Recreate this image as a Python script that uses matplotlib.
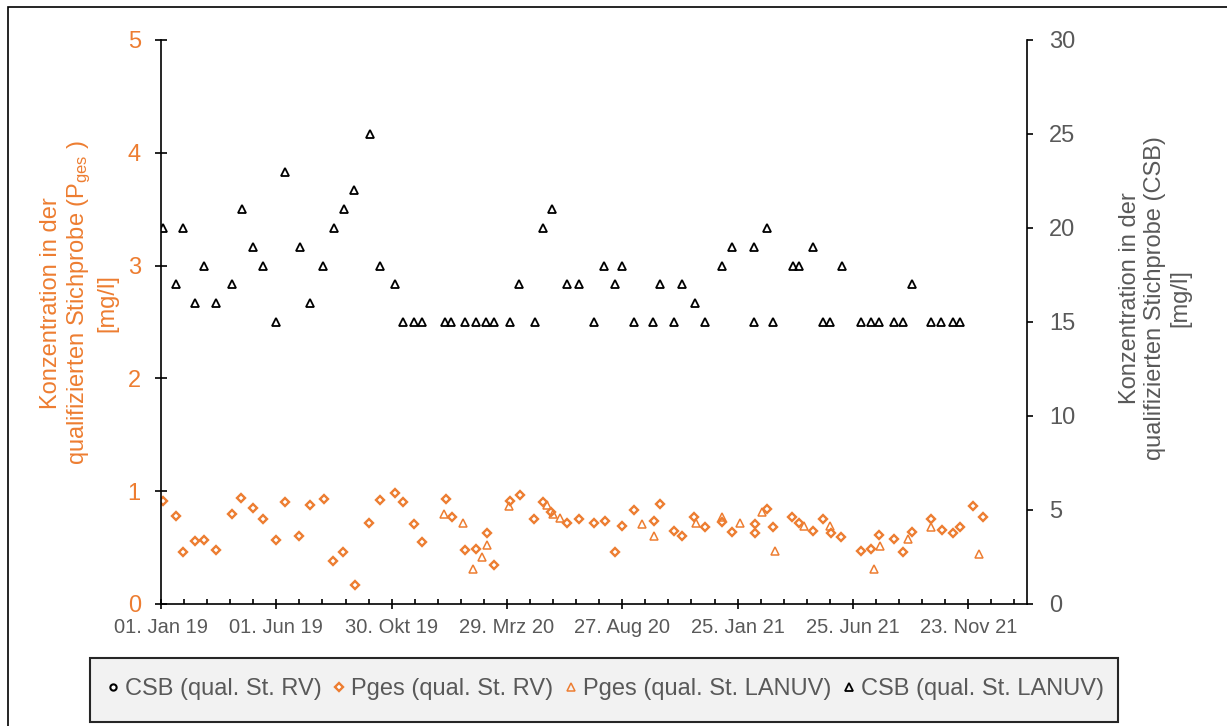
import numpy as np
import matplotlib
matplotlib.use("Agg")
from matplotlib import pyplot as plt
from matplotlib.patches import Rectangle

plt.rcParams['font.family'] = ['Liberation Sans', 'DejaVu Sans']
plt.rcParams['mathtext.default'] = 'regular'

######################################################
# Daten (Tage seit 01.01.2019)
######################################################
# CSB, qualifizierte Stichprobe LANUV [mg/l]
csb_lanuv_tag = [3, 20, 29, 44, 56, 72, 93, 106, 120, 133, 150, 162, 182, 195,
                 212, 226, 239, 253, 274, 287, 306, 317, 331, 342, 372, 380,
                 398, 413, 426, 436, 457, 469, 490, 500, 512, 532, 547, 567,
                 580, 594, 604, 619, 644, 653, 672, 682, 699, 713, 735, 748,
                 777, 777, 793, 801, 827, 835, 854, 867, 876, 892, 917, 930,
                 940, 960, 971, 983, 1008, 1022, 1037, 1046]
csb_lanuv = [20, 17, 20, 16, 18, 16, 17, 21, 19, 18, 15, 23, 19, 16,
             18, 20, 21, 22, 25, 18, 17, 15, 15, 15, 15, 15,
             15, 15, 15, 15, 15, 17, 15, 20, 21, 17, 17, 15,
             18, 17, 18, 15, 15, 17, 15, 17, 16, 15, 18, 19,
             15, 19, 20, 15, 18, 18, 19, 15, 15, 18, 15, 15,
             15, 15, 15, 17, 15, 15, 15, 15]

# CSB, qualifizierte Stichprobe RV (keine Werte)
csb_rv_tag = []
csb_rv = []

# Pges, qualifizierte Stichprobe RV [mg/l]
p_rv_tag = [3, 20, 29, 44, 56, 72, 93, 105, 120, 133, 150, 162, 181, 195,
            213, 225, 238, 254, 273, 287, 307, 317, 331, 342, 373, 381,
            398, 413, 427, 436, 457, 470, 489, 500, 511, 532, 547, 567,
            581, 594, 604, 619, 645, 653, 672, 682, 698, 713, 734, 748,
            778, 778, 793, 801, 826, 836, 854, 867, 877, 891, 916, 930,
            940, 960, 972, 984, 1008, 1023, 1037, 1046, 1063, 1077]
p_rv = [0.91, 0.78, 0.46, 0.56, 0.57, 0.48, 0.80, 0.94, 0.85, 0.75, 0.57, 0.90, 0.60, 0.88,
        0.93, 0.38, 0.46, 0.17, 0.72, 0.92, 0.98, 0.90, 0.71, 0.55, 0.93, 0.77,
        0.48, 0.49, 0.63, 0.35, 0.91, 0.97, 0.75, 0.90, 0.82, 0.72, 0.75, 0.72,
        0.74, 0.46, 0.69, 0.83, 0.74, 0.89, 0.65, 0.60, 0.77, 0.68, 0.73, 0.64,
        0.71, 0.63, 0.84, 0.68, 0.77, 0.72, 0.65, 0.75, 0.63, 0.59, 0.47, 0.49,
        0.61, 0.58, 0.46, 0.64, 0.75, 0.66, 0.63, 0.68, 0.87, 0.77]

# Pges, qualifizierte Stichprobe LANUV [mg/l]
p_lanuv_tag = [370, 395, 408, 420, 427, 456, 505, 513, 523, 630, 646, 701,
               735, 758, 787, 804, 842, 876, 934, 941, 978, 1008, 1071]
p_lanuv = [0.80, 0.72, 0.31, 0.42, 0.52, 0.87, 0.88, 0.80, 0.76, 0.71, 0.60, 0.72,
           0.77, 0.72, 0.82, 0.47, 0.69, 0.69, 0.31, 0.51, 0.58, 0.68, 0.44]

x_labels = ['01. Jan 19', '01. Jun 19', '30. Okt 19', '29. Mrz 20',
            '27. Aug 20', '25. Jan 21', '25. Jun 21', '23. Nov 21']

orange = '#ED7D31'
grau = '#595959'

######################################################
# Plot
######################################################
W, H = 1227, 726
fig = plt.figure(figsize=(W / 100, H / 100), dpi=100)

# Rahmen um das Diagramm
fig.patches.append(Rectangle((8 / W, -0.1), 1.5, 1.1 - 7 / H, transform=fig.transFigure,
                             fill=False, edgecolor='black', linewidth=1.2))

ax1 = fig.add_axes([161 / W, 1 - 604 / H, (1027 - 161) / W, (604 - 40) / H])
ax2 = ax1.twinx()

h_prv, = ax1.plot(p_rv_tag, p_rv, ls='none', marker='D', ms=3.8, mew=1.7,
                  mec=orange, mfc='white', label='Pges (qual. St. RV)')
h_pla, = ax1.plot(p_lanuv_tag, p_lanuv, ls='none', marker='^', ms=6, mew=1.1,
                  mec=orange, mfc='none', label='Pges (qual. St. LANUV)')
h_crv, = ax2.plot(csb_rv_tag, csb_rv, ls='none', marker='o', ms=4.5, mew=1.5,
                  mec='black', mfc='white', label='CSB (qual. St. RV)')
h_cla, = ax2.plot(csb_lanuv_tag, csb_lanuv, ls='none', marker='^', ms=6, mew=1.3,
                  mec='black', mfc='none', label='CSB (qual. St. LANUV)')

ax1.set_xlim(0, 1134)
ax1.set_ylim(0, 5)
ax2.set_ylim(0, 30)

ax1.set_xticks(np.arange(len(x_labels)) * 151)
ax1.set_xticklabels(x_labels)
ax1.set_xticks(np.arange(0, 1134, 30.2), minor=True)
ax1.set_yticks(np.arange(0, 6, 1))
ax2.set_yticks(np.arange(0, 31, 5))

for side in ['top', 'right']:
    ax1.spines[side].set_visible(False)
for side in ['top', 'left', 'bottom']:
    ax2.spines[side].set_visible(False)
for sp in [ax1.spines['left'], ax1.spines['bottom'], ax2.spines['right']]:
    sp.set_linewidth(1.2)
    sp.set_color('black')

ax1.tick_params(axis='x', which='major', direction='inout', length=7.5, width=1.2,
                pad=6, labelsize=14.5, labelcolor=grau)
ax1.tick_params(axis='x', which='minor', direction='in', length=3.5, width=1.2)
ax1.tick_params(axis='y', direction='inout', length=9, width=1.2, pad=10,
                labelsize=17, labelcolor=orange)
ax2.tick_params(axis='y', direction='out', length=4.5, width=1.2, pad=11.5,
                labelsize=17, labelcolor=grau)

fig.text(79 / W, 1 - 303 / H,
         'Konzentration in der\nqualifizierten Stichprobe (P$_{ges}$ )\n[mg/l]',
         rotation=90, ha='center', va='center', multialignment='center',
         fontsize=17, color=orange, linespacing=1.2)
fig.text(1155 / W, 1 - 298 / H,
         'Konzentration in der\nqualifizierten Stichprobe (CSB)\n[mg/l]',
         rotation=90, ha='center', va='center', multialignment='center',
         fontsize=17, color=grau, linespacing=1.2)

# Legende
fig.patches.append(Rectangle((90 / W, 1 - 722 / H), (1118 - 90) / W, (722 - 658) / H,
                             transform=fig.transFigure, facecolor='#F2F2F2',
                             edgecolor='#262626', linewidth=1.5))
leg = fig.legend(handles=[h_crv, h_prv, h_pla, h_cla], loc='center',
                 bbox_to_anchor=(606 / W, 1 - 689 / H), ncol=4, frameon=False,
                 fontsize=17, handlelength=0.4, handletextpad=0.3,
                 columnspacing=0.55, borderpad=0.2)
for t in leg.get_texts():
    t.set_color(grau)

fig.savefig('out.png', dpi=100)
